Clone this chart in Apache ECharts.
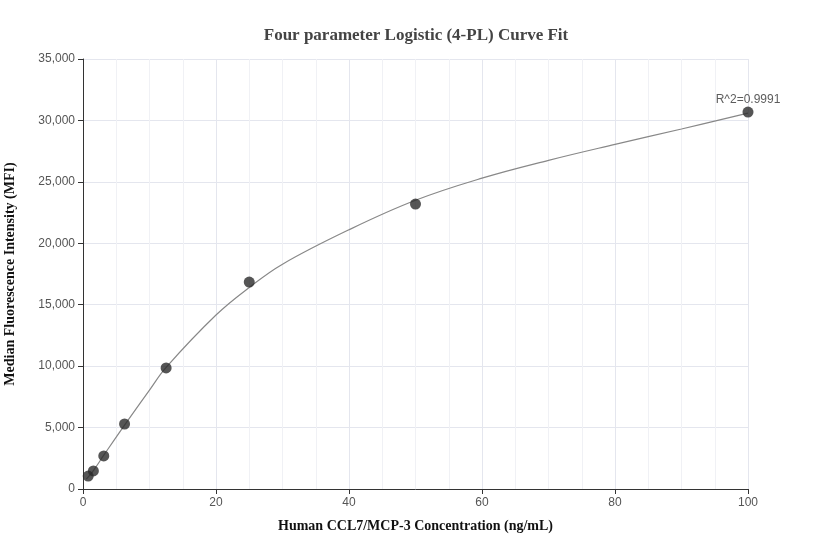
<!DOCTYPE html>
<html>
<head>
<meta charset="utf-8">
<script src="https://cdn.jsdelivr.net/npm/echarts@6/dist/echarts.min.js"></script>
<style>html,body{margin:0;padding:0;background:#fff}</style>
</head>
<body>
<div id="main" style="width:832px;height:560px;"></div>
<script>
// measured standards (concentration, MFI)
var concentrations = [0.78, 1.56, 3.125, 6.25, 12.5, 25, 50, 100];
var mfiValues = [1050, 1470, 2690, 5290, 9850, 16840, 23190, 30680];
// fitted curve
var curveX = [0.5, 1.56, 3.125, 6.25, 10, 12.5, 20, 25, 30, 40, 50, 60, 70, 80, 90, 100];
var curveY = [800, 1500, 2750, 5200, 8050, 9900, 14160, 16400, 18300, 21100, 23500, 25300, 26750, 28050, 29300, 30600];
var r2Label = 'R^2=0.9991';

var chart = echarts.init(document.getElementById('main'));
var points = concentrations.map(function (c, i) { return [c, mfiValues[i]]; });
var curve = curveX.map(function (c, i) { return [c, curveY[i]]; });
var serif = 'Times New Roman, Liberation Serif, serif';

chart.setOption({
    animation: false,
    title: {
        text: 'Four parameter Logistic (4-PL) Curve Fit',
        left: 'center', top: 22,
        textStyle: { fontFamily: serif, fontSize: 17, fontWeight: 'bold', color: '#444' }
    },
    grid: { left: 83, right: 84, top: 59, bottom: 71, containLabel: false, outerBoundsMode: 'none' },
    xAxis: {
        type: 'value', min: 0, max: 100, interval: 20,
        name: 'Human CCL7/MCP-3 Concentration (ng/mL)', nameLocation: 'middle', nameGap: 30,
        nameTextStyle: { fontFamily: serif, fontSize: 14, fontWeight: 'bold', color: '#111' },
        axisLine: { lineStyle: { color: '#333' } },
        axisTick: { show: true, lineStyle: { color: '#333' } },
        axisLabel: { color: '#555', fontSize: 12 },
        splitLine: { show: true, lineStyle: { color: '#e4e6ee' } },
        minorTick: { show: false, splitNumber: 4 },
        minorSplitLine: { show: true, lineStyle: { color: '#f0f1f5' } }
    },
    yAxis: {
        type: 'value', min: 0, max: 35000, interval: 5000,
        name: 'Median Fluorescence Intensity (MFI)', nameLocation: 'middle', nameGap: 66,
        nameTextStyle: { fontFamily: serif, fontSize: 14, fontWeight: 'bold', color: '#111' },
        axisLine: { show: true, lineStyle: { color: '#333' } },
        axisTick: { show: true, lineStyle: { color: '#333' } },
        axisLabel: { color: '#555', fontSize: 12, formatter: function (v) { return v.toLocaleString('en-US'); } },
        splitLine: { show: true, lineStyle: { color: '#e4e6ee' } }
    },
    series: [
        {
            type: 'line', data: curve, smooth: 0.4, showSymbol: false,
            lineStyle: { color: '#888', width: 1.2 }, z: 2
        },
        {
            type: 'scatter', data: points, symbolSize: 11,
            itemStyle: { color: '#2b2b2b' }, z: 3,
            label: {
                show: true, color: '#333', fontSize: 12, position: 'top', distance: 1,
                formatter: function (p) { return p.dataIndex === points.length - 1 ? r2Label : ''; }
            }
        }
    ]
});
</script>
</body>
</html>
